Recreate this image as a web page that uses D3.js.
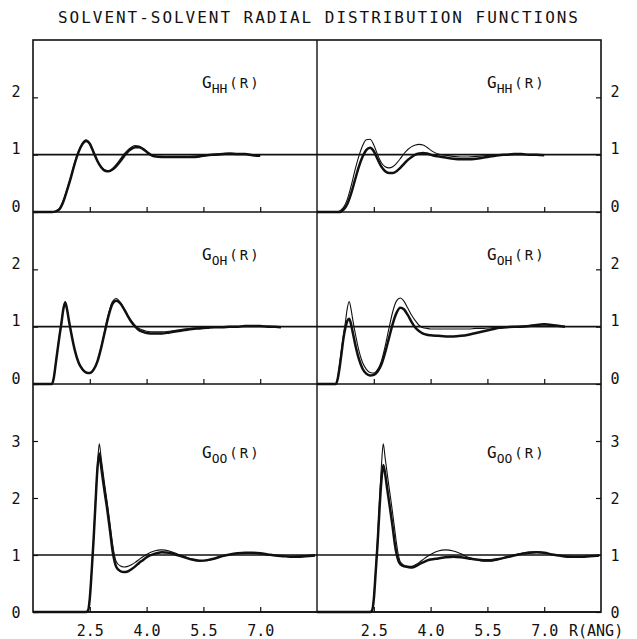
<!DOCTYPE html>
<html>
<head>
<meta charset="utf-8">
<script src="https://cdn.jsdelivr.net/npm/d3@7"></script>
<style>
  body { margin: 0; background: #fff; }
  text { font-family: "DejaVu Sans Mono", "Liberation Mono", monospace; fill: #111; }
</style>
</head>
<body>
<svg id="chart" width="637" height="639"></svg>
<script>
// ---- radial grids (Angstrom) ----
const rHH = [1.0, 1.5, 1.6, 1.7, 1.8, 1.9, 2.0, 2.1, 2.2, 2.3, 2.4, 2.5, 2.6, 2.7, 2.8, 2.9, 3.0,
  3.1, 3.2, 3.3, 3.4, 3.5, 3.6, 3.7, 3.8, 3.9, 4.0, 4.1, 4.2, 4.4, 4.6, 4.8, 5.0, 5.2, 5.4,
  5.6, 5.8, 6.0, 6.2, 6.4, 6.6, 6.8, 7.0];
const rOH = [1.0, 1.45, 1.5, 1.55, 1.6, 1.65, 1.7, 1.75, 1.8, 1.85, 1.9, 1.95, 2.0,
  2.1, 2.2, 2.3, 2.4, 2.5, 2.6, 2.7, 2.8, 2.9, 3.0, 3.1, 3.2, 3.3, 3.4, 3.5, 3.6, 3.7, 3.8, 3.9,
  4.0, 4.2, 4.4, 4.6, 4.8, 5.0, 5.2, 5.4, 5.6, 5.8, 6.0, 6.2, 6.4, 6.6, 6.8, 7.0, 7.2, 7.4, 7.55];
const rOO = [1.0, 2.4, 2.45, 2.5, 2.55, 2.6, 2.65, 2.7, 2.75, 2.8, 2.85, 2.9, 2.95, 3.0, 3.05,
  3.1, 3.15, 3.2, 3.3, 3.4, 3.5, 3.6, 3.7, 3.8, 3.9, 4.0, 4.2, 4.4, 4.6, 4.8, 5.0, 5.2, 5.4,
  5.6, 5.8, 6.0, 6.2, 6.4, 6.6, 6.8, 7.0, 7.2, 7.4, 7.6, 7.8, 8.0, 8.2, 8.45];

// ---- g(R) curves: thin = reference run, thick = comparison run ----
const gHH_leftThin  = [0, 0, 0.01, 0.06, 0.2, 0.4, 0.62, 0.86, 1.06, 1.2, 1.26, 1.2, 1.05, 0.9, 0.79, 0.73, 0.72,
  0.76, 0.83, 0.92, 1.01, 1.08, 1.13, 1.16, 1.15, 1.11, 1.05, 1.0, 0.98, 0.97, 0.96, 0.96, 0.96, 0.97, 0.98,
  0.99, 1.01, 1.02, 1.02, 1.02, 1.01, 1.0, 0.98];
const gHH_leftThick = [0, 0, 0.01, 0.05, 0.18, 0.38, 0.6, 0.84, 1.04, 1.18, 1.24, 1.19, 1.04, 0.89, 0.78, 0.72, 0.71,
  0.74, 0.8, 0.88, 0.97, 1.05, 1.1, 1.13, 1.13, 1.1, 1.05, 1.0, 0.97, 0.96, 0.96, 0.96, 0.96, 0.96, 0.97,
  0.99, 1.0, 1.01, 1.02, 1.01, 1.01, 0.99, 0.98];
const gHH_rightThin  = [0, 0, 0.02, 0.08, 0.22, 0.45, 0.72, 0.96, 1.15, 1.26, 1.27, 1.17, 1.0, 0.86, 0.79, 0.77, 0.79,
  0.85, 0.93, 1.02, 1.09, 1.14, 1.17, 1.18, 1.17, 1.13, 1.08, 1.04, 1.01, 0.99, 0.97, 0.96, 0.96, 0.97, 0.98,
  0.99, 1.0, 1.0, 1.0, 1.0, 1.0, 0.99, 0.99];
const gHH_rightThick = [0, 0, 0.0, 0.04, 0.14, 0.32, 0.55, 0.78, 0.96, 1.08, 1.12, 1.06, 0.92, 0.79, 0.71, 0.68, 0.68,
  0.71, 0.77, 0.84, 0.91, 0.96, 1.0, 1.02, 1.03, 1.02, 1.0, 0.98, 0.97, 0.95, 0.93, 0.92, 0.92, 0.93, 0.95,
  0.97, 0.99, 1.0, 1.01, 1.01, 1.0, 1.0, 0.99];

const gOH_leftThin  = [0, 0, 0, 0.12, 0.37, 0.62, 0.86, 1.08, 1.32, 1.44, 1.3, 1.1, 0.92,
  0.6, 0.38, 0.26, 0.2, 0.19, 0.25, 0.4, 0.65, 0.95, 1.24, 1.44, 1.49, 1.43, 1.32, 1.2, 1.1, 1.02, 0.97, 0.94,
  0.92, 0.91, 0.91, 0.92, 0.94, 0.96, 0.97, 0.98, 0.99, 0.99, 1.0, 1.0, 1.0, 1.01, 1.01, 1.01, 1.01, 1.0, 0.99];
const gOH_leftThick = [0, 0, 0, 0.11, 0.35, 0.6, 0.84, 1.06, 1.3, 1.42, 1.3, 1.1, 0.92,
  0.6, 0.38, 0.26, 0.2, 0.19, 0.25, 0.39, 0.63, 0.92, 1.2, 1.4, 1.45, 1.41, 1.31, 1.19, 1.08, 1.0, 0.94, 0.91,
  0.89, 0.88, 0.88, 0.9, 0.92, 0.94, 0.96, 0.97, 0.98, 0.99, 0.99, 1.0, 1.0, 1.01, 1.01, 1.01, 1.0, 1.0, 0.99];
const gOH_rightThin  = [0, 0, 0, 0.12, 0.37, 0.62, 0.86, 1.08, 1.32, 1.44, 1.3, 1.1, 0.92,
  0.6, 0.38, 0.26, 0.2, 0.19, 0.25, 0.4, 0.66, 0.97, 1.26, 1.45, 1.5, 1.44, 1.32, 1.2, 1.1, 1.02, 0.98, 0.97,
  0.96, 0.96, 0.96, 0.96, 0.96, 0.96, 0.97, 0.97, 0.98, 0.99, 1.0, 1.0, 1.01, 1.02, 1.03, 1.03, 1.02, 1.01, 1.0];
const gOH_rightThick = [0, 0, 0, 0.1, 0.3, 0.55, 0.8, 0.98, 1.1, 1.14, 1.04, 0.88, 0.72,
  0.45, 0.27, 0.18, 0.15, 0.16, 0.22, 0.34, 0.55, 0.8, 1.05, 1.24, 1.33, 1.3, 1.2, 1.08, 0.98, 0.92, 0.88, 0.86,
  0.85, 0.84, 0.83, 0.83, 0.84, 0.86, 0.89, 0.92, 0.95, 0.98, 0.99, 1.0, 1.0, 1.01, 1.03, 1.04, 1.03, 1.01, 1.0];

const gOO_leftThin  = [0, 0, 0.02, 0.25, 0.75, 1.3, 1.95, 2.55, 2.95, 2.7, 2.45, 2.2, 1.97, 1.72, 1.46, 1.2, 1.0, 0.88,
  0.81, 0.79, 0.8, 0.83, 0.87, 0.92, 0.97, 1.01,
  1.07, 1.09, 1.07, 1.02, 0.97, 0.93, 0.9, 0.9, 0.94, 0.98, 1.01, 1.03, 1.04, 1.04, 1.02, 1.0, 0.99, 0.98, 0.97, 0.98, 0.99,
  1.0];
const gOO_leftThick = [0, 0, 0.02, 0.24, 0.72, 1.27, 1.9, 2.5, 2.78, 2.55, 2.3, 2.07, 1.85, 1.6, 1.34, 1.08, 0.9, 0.79,
  0.72, 0.7, 0.71, 0.75, 0.8, 0.86, 0.91, 0.96,
  1.02, 1.05, 1.04, 1.0, 0.96, 0.92, 0.9, 0.91, 0.94, 0.98, 1.01, 1.03, 1.04, 1.04, 1.03, 1.01, 0.99, 0.98, 0.97, 0.97, 0.98,
  0.99];
const gOO_rightThin  = [0, 0, 0.02, 0.25, 0.75, 1.3, 1.95, 2.55, 2.95, 2.7, 2.45, 2.2, 1.97, 1.72, 1.46, 1.2, 1.0, 0.88,
  0.82, 0.8, 0.8, 0.83, 0.87, 0.92, 0.97, 1.01,
  1.07, 1.09, 1.07, 1.02, 0.96, 0.92, 0.89, 0.89, 0.92, 0.96, 1.0, 1.03, 1.05, 1.06, 1.04, 1.01, 0.99, 0.98, 0.97, 0.97, 0.98,
  0.99];
const gOO_rightThick = [0, 0, 0.02, 0.22, 0.7, 1.2, 1.8, 2.3, 2.58, 2.42, 2.18, 1.95, 1.72, 1.48, 1.22, 1.02, 0.9, 0.84,
  0.8, 0.79, 0.78, 0.8, 0.84, 0.87, 0.9, 0.92,
  0.94, 0.96, 0.97, 0.96, 0.94, 0.92, 0.91, 0.91, 0.93, 0.96, 0.99, 1.02, 1.04, 1.05, 1.04, 1.01, 0.99, 0.97, 0.97, 0.97, 0.98,
  0.99];

// ---- axis ticks & labels ----
const xTickValues = [2.5, 4.0, 5.5, 7.0];
const xTickLabels = ["2.5", "4.0", "5.5", "7.0"];
const yTicksSmall = [0, 1, 2];
const yTicksLarge = [0, 1, 2, 3];
const titleText = "SOLVENT-SOLVENT RADIAL DISTRIBUTION FUNCTIONS";
const xUnitLabel = "R(ANG)";

// ---- layout ----
const svg = d3.select("#chart");
const L = 33, M = 317, R = 601;
const xDomain = [1.0, 8.5];
const xScales = {
  left: d3.scaleLinear().domain(xDomain).range([L, M]),
  right: d3.scaleLinear().domain(xDomain).range([M, R])
};

const panels = [
  { sub: "HH", top: 40,  bottom: 212, ymax: 3, ticks: yTicksSmall, r: rHH,
    left: [gHH_leftThick, gHH_leftThin], right: [gHH_rightThick, gHH_rightThin],
    labelDy: 48, yLabelMode: "above" },
  { sub: "OH", top: 212, bottom: 384, ymax: 3, ticks: yTicksSmall, r: rOH,
    left: [gOH_leftThick, gOH_leftThin], right: [gOH_rightThick, gOH_rightThin],
    labelDy: 48, yLabelMode: "above" },
  { sub: "OO", top: 384, bottom: 612, ymax: 4, ticks: yTicksLarge, r: rOO,
    left: [gOO_leftThick, gOO_leftThin], right: [gOO_rightThick, gOO_rightThin],
    labelDy: 74, yLabelMode: "center" }
];

const ink = "#111";

// title
svg.append("text")
  .attr("x", 318).attr("y", 23)
  .attr("text-anchor", "middle")
  .attr("font-size", 16)
  .attr("textLength", 520)
  .attr("lengthAdjust", "spacing")
  .text(titleText);

panels.forEach((p, pi) => {
  const y = d3.scaleLinear().domain([0, p.ymax]).range([p.bottom, p.top]);
  const isLast = pi === panels.length - 1;

  ["left", "right"].forEach(side => {
    const x = xScales[side];

    // curves
    const line = d3.line()
      .x((d, i) => x(p.r[i]))
      .y(d => y(d))
      .curve(d3.curveMonotoneX);
    const [thick, thin] = p[side];
    svg.append("path").datum(thick)
      .attr("d", line).attr("fill", "none")
      .attr("stroke", ink).attr("stroke-width", 2.5).attr("stroke-linejoin", "round");
    svg.append("path").datum(thin)
      .attr("d", line).attr("fill", "none")
      .attr("stroke", ink).attr("stroke-width", 1.1).attr("stroke-linejoin", "round");

    // x ticks on the panel's baseline, pointing inward
    const xAxis = svg.append("g")
      .attr("transform", `translate(0,${p.bottom})`)
      .call(d3.axisBottom(x).tickValues(xTickValues).tickSize(-5).tickFormat(""));
    xAxis.select(".domain").remove();
    xAxis.selectAll("line").attr("stroke", ink).attr("stroke-width", 1.2);

    if (isLast) {
      xAxis.selectAll(".tick text")
        .data(xTickLabels)
        .text(d => d)
        .attr("y", 24).attr("dy", 0)
        .attr("font-size", 15)
        .attr("fill", ink);
    }

    // y ticks: inward from the outer frame edge
    const yAxis = side === "left"
      ? d3.axisLeft(y).tickValues(p.ticks).tickSize(-5).tickFormat(d3.format("d"))
      : d3.axisRight(y).tickValues(p.ticks).tickSize(-5).tickFormat(d3.format("d"));
    const gy = svg.append("g")
      .attr("transform", `translate(${side === "left" ? L : R},0)`)
      .call(yAxis);
    gy.select(".domain").remove();
    gy.selectAll("line").attr("stroke", ink).attr("stroke-width", 1.2);
    gy.selectAll(".tick text")
      .attr("x", side === "left" ? -17 : 14)
      .attr("text-anchor", "middle")
      .attr("dy", p.yLabelMode === "above" ? "-0.05em" : "0.36em")
      .attr("font-size", 15)
      .attr("fill", ink);

    // panel label G_xx(R)
    const lbl = svg.append("text")
      .attr("x", side === "left" ? 202 : 487)
      .attr("y", p.top + p.labelDy)
      .attr("font-size", 16);
    lbl.append("tspan").text("G");
    lbl.append("tspan").attr("dy", 5).attr("font-size", 13).text(p.sub);
    lbl.append("tspan").attr("dy", -5).attr("dx", 2).attr("font-size", 14)
      .attr("letter-spacing", 2).text("(R)");
  });

  // g = 1 reference line across both halves
  svg.append("line")
    .attr("x1", L).attr("x2", R)
    .attr("y1", y(1)).attr("y2", y(1))
    .attr("stroke", ink).attr("stroke-width", 1.6);

  // panel baseline / separator
  svg.append("line")
    .attr("x1", L).attr("x2", R)
    .attr("y1", y(0)).attr("y2", y(0))
    .attr("stroke", ink).attr("stroke-width", 1.6);
});

// outer frame and center divider
svg.append("rect")
  .attr("x", L).attr("y", 40).attr("width", R - L).attr("height", 612 - 40)
  .attr("fill", "none").attr("stroke", ink).attr("stroke-width", 1.6);
svg.append("line")
  .attr("x1", M).attr("x2", M).attr("y1", 40).attr("y2", 612)
  .attr("stroke", ink).attr("stroke-width", 1.4);

// axis unit
svg.append("text")
  .attr("x", 569).attr("y", 636)
  .attr("font-size", 15)
  .attr("fill", ink)
  .text(xUnitLabel);
</script>
</body>
</html>
